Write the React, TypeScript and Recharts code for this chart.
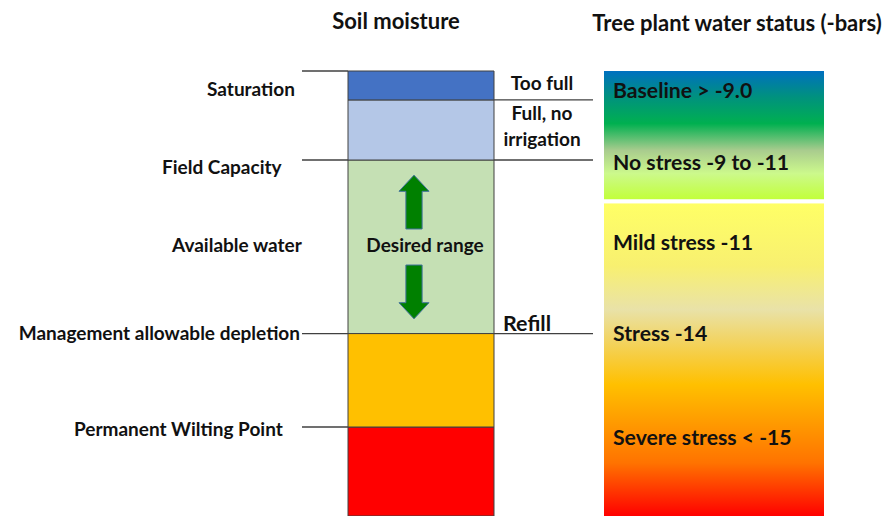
import { BarChart, Bar, XAxis, YAxis, ReferenceLine, Customized } from "recharts";

const W = 884;
const H = 516;
const TOP = 71; // top edge of both columns
const FONT = "Lato, 'Open Sans', sans-serif";
const INK = "#111111";
const LINE = "#404040";

// soil moisture column, bottom to top, share of column height (%)
const soilZones = ["Permanent wilting", "Below allowable depletion", "Desired range", "Full, no irrigation", "Too full"];
const soilShares = [20, 21, 39, 13.5, 6.5];
const soilColors = ["#FF0000", "#FFC000", "#C5E0B4", "#B4C7E7", "#4472C4"];
const soilCenter = 421;

// tree plant water status column, bottom to top (%)
const statusZones = ["Stress range", "gap", "No stress range"];
const statusShares = [70.3, 0.9, 28.8];
const statusFills = ["url(#stressGrad)", "#FFFFFF", "url(#okGrad)"];
const statusCenter = 714;

// soil levels where the connector lines sit (%)
const leftLevels = [100, 80, 41, 20];
const rightLevels = [93.5, 80, 41];

// "desired range" arrows, soil levels (%)
const arrowUp = [64.5, 76.6];
const arrowDown = [44.3, 56.4];

const leftLabels = ["Saturation", "Field Capacity", "Available water", "Management allowable depletion", "Permanent Wilting Point"];
const leftLabelLevels = [96, 78.6, 61.1, 41.3, 19.6];
const leftLabelX = [207, 162, 172, 300, 74];

const rightLabels = ["Too full", "Full, no", "irrigation"];
const rightLabelLevels = [97.5, 90.7, 84.8];

const statusLabels = ["Baseline > -9.0", "No stress -9 to -11", "Mild stress -11", "Stress -14", "Severe stress < -15"];
const statusLabelLevels = [95.7, 79.6, 61.6, 41.1, 17.8];

const soilRow: Record<string, number> = { x: soilCenter };
soilShares.forEach((v, i) => (soilRow["s" + i] = v));
const statusRow: Record<string, number> = { x: statusCenter };
statusShares.forEach((v, i) => (statusRow["p" + i] = v));

// same mapping the charts use (margin top = TOP, y domain 0..100)
const sy = (v: number) => TOP + ((100 - v) * (H - TOP)) / 100;

function arrowPath(lo: number, hi: number, up: boolean) {
  const x = 399;
  const width = 30;
  const y = sy(hi);
  const height = sy(lo) - y;
  const head = height * 0.3;
  const shaft = width * 0.27;
  const cx = x + width / 2;
  return up
    ? `M${cx},${y} L${x + width},${y + head} L${cx + shaft},${y + head} L${cx + shaft},${y + height} L${cx - shaft},${y + height} L${cx - shaft},${y + head} L${x},${y + head} Z`
    : `M${cx},${y + height} L${x + width},${y + height - head} L${cx + shaft},${y + height - head} L${cx + shaft},${y} L${cx - shaft},${y} L${cx - shaft},${y + height - head} L${x},${y + height - head} Z`;
}

function Labels() {
  return (
    <g>
      <path d={arrowPath(arrowUp[0], arrowUp[1], true)} fill="#008000" stroke="#41719C" strokeWidth={1} />
      <path d={arrowPath(arrowDown[0], arrowDown[1], false)} fill="#008000" stroke="#41719C" strokeWidth={1} />
      <g fontFamily={FONT} fontWeight="bold" fill={INK}>
        <text x={396} y={20} fontSize={22} textAnchor="middle" dominantBaseline="central">Soil moisture</text>
        <text x={737} y={22} fontSize={22} textAnchor="middle" dominantBaseline="central">Tree plant water status (-bars)</text>
        {leftLabels.map((t, i) => (
          <text key={t} x={leftLabelX[i]} y={sy(leftLabelLevels[i])} fontSize={19}
            textAnchor={i === 3 ? "end" : "start"} dominantBaseline="central">{t}</text>
        ))}
        {rightLabels.map((t, i) => (
          <text key={t} x={542} y={sy(rightLabelLevels[i])} fontSize={19} textAnchor="middle" dominantBaseline="central">{t}</text>
        ))}
        <text x={425} y={sy(60.9)} fontSize={19} textAnchor="middle" dominantBaseline="central">Desired range</text>
        <text x={503} y={sy(43.4)} fontSize={21.5} dominantBaseline="central">Refill</text>
        {statusLabels.map((t, i) => (
          <text key={t} x={613} y={sy(statusLabelLevels[i])} fontSize={21.2} dominantBaseline="central">{t}</text>
        ))}
      </g>
    </g>
  );
}

const layer = { position: "absolute" as const, left: 0, top: 0 };
const margin = { top: TOP, right: 0, bottom: 0, left: 0 };

export default function App() {
  return (
    <div style={{ position: "absolute", left: 0, top: 0, width: W, height: H, background: "#fff" }}>
      <div style={layer}>
        <BarChart width={W} height={H} data={[statusRow]} margin={margin}>
          <defs>
            <linearGradient id="okGrad" x1="0" y1="0" x2="0" y2="1">
              <stop offset="0" stopColor="#0070C0" />
              <stop offset="0.2" stopColor="#00917F" />
              <stop offset="0.41" stopColor="#00B050" />
              <stop offset="0.62" stopColor="#A9CC8E" />
              <stop offset="0.8" stopColor="#CCF98C" />
              <stop offset="1" stopColor="#C2FF3A" />
            </linearGradient>
            <linearGradient id="stressGrad" x1="0" y1="0" x2="0" y2="1">
              <stop offset="0" stopColor="#FFFF66" />
              <stop offset="0.2" stopColor="#F8F070" />
              <stop offset="0.34" stopColor="#E9E2A8" />
              <stop offset="0.58" stopColor="#FFC000" />
              <stop offset="0.83" stopColor="#FF7300" />
              <stop offset="1" stopColor="#FF0000" />
            </linearGradient>
          </defs>
          <XAxis type="number" dataKey="x" domain={[0, W]} ticks={[0, W]} hide />
          <YAxis type="number" domain={[0, 100]} hide />
          {statusZones.map((z, i) => (
            <Bar key={z} name={z} dataKey={"p" + i} stackId="status" barSize={220}
              fill={statusFills[i]} isAnimationActive={false} />
          ))}
        </BarChart>
      </div>
      <div style={layer}>
        <BarChart width={W} height={H} data={[soilRow]} margin={margin}>
          <XAxis type="number" dataKey="x" domain={[0, W]} ticks={[0, W]} hide />
          <YAxis type="number" domain={[0, 100]} hide />
          {soilZones.map((z, i) => (
            <Bar key={z} name={z} dataKey={"s" + i} stackId="soil" barSize={146}
              fill={soilColors[i]} stroke={LINE} strokeWidth={1} isAnimationActive={false} />
          ))}
          {leftLevels.map((v) => (
            <ReferenceLine key={"l" + v} segment={[{ x: 302, y: v }, { x: 348, y: v }]} stroke={LINE} strokeWidth={1.3} ifOverflow="visible" />
          ))}
          {rightLevels.map((v) => (
            <ReferenceLine key={"r" + v} segment={[{ x: 494, y: v }, { x: 593, y: v }]} stroke={LINE} strokeWidth={1.3} ifOverflow="visible" />
          ))}
        </BarChart>
      </div>
      {/* annotation layer on top: arrows and all text */}
      <div style={layer}>
        <BarChart width={W} height={H} data={[{ x: 0 }]} margin={margin}>
          <XAxis type="number" dataKey="x" domain={[0, W]} ticks={[0, W]} hide />
          <YAxis type="number" domain={[0, 100]} hide />
          <Customized component={Labels} />
        </BarChart>
      </div>
    </div>
  );
}
